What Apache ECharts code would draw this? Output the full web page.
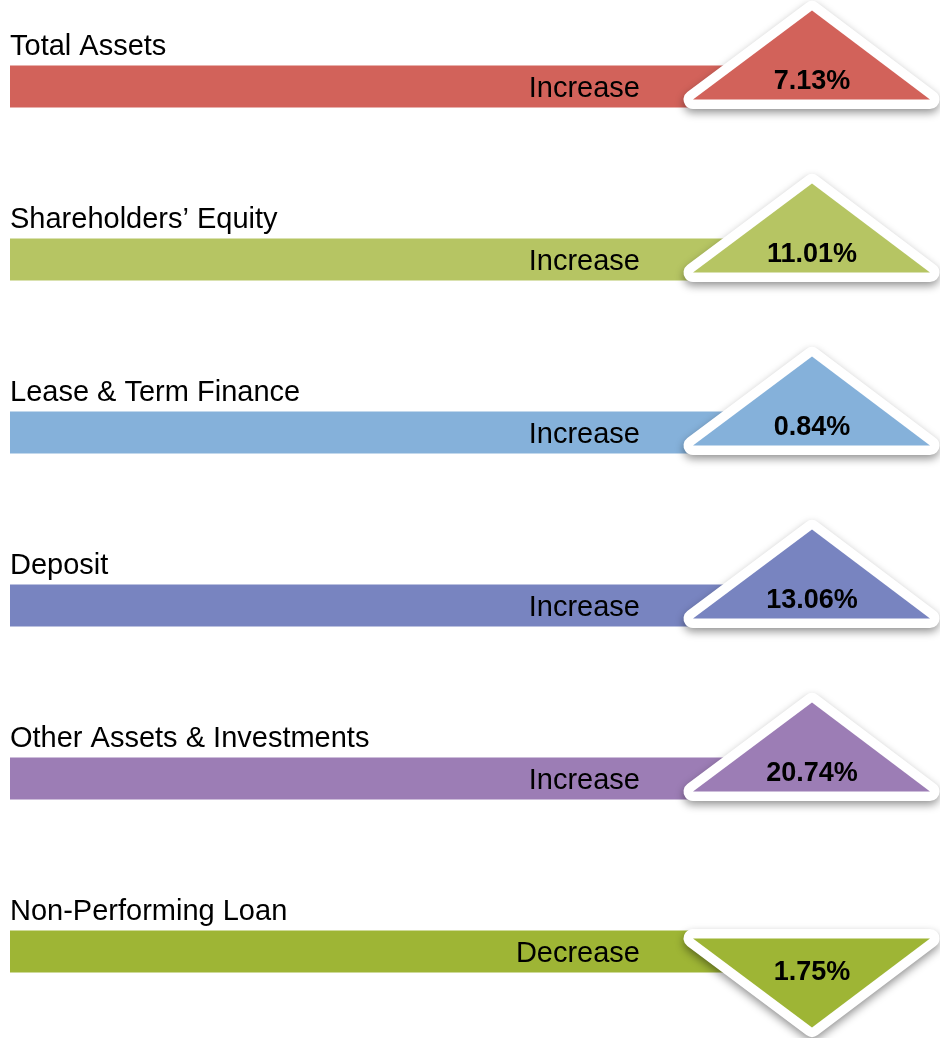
<!DOCTYPE html>
<html>
<head>
<meta charset="utf-8">
<script src="https://cdn.jsdelivr.net/npm/echarts@6/dist/echarts.min.js"></script>
<style>
	html, body {margin: 0; padding: 0; background: #fff;}
	#draw_1 {width: 940px; height: 1038px;}
</style>
</head>
<body>
<div id="draw_1"></div>
<script>
var categories = ['Total Assets', 'Shareholders’ Equity', 'Lease & Term Finance', 'Deposit', 'Other Assets & Investments', 'Non-Performing Loan'];
var directions = ['Increase', 'Increase', 'Increase', 'Increase', 'Increase', 'Decrease'];
var changes = [7.13, 11.01, 0.84, 13.06, 20.74, 1.75];
var colors = ['#D2625A', '#B6C563', '#85B1DA', '#7884C0', '#9C7DB5', '#9EB535'];

var myChart_1 = echarts.init(document.getElementById('draw_1'));

function renderRow(params, api){
	var i = api.value(0);
	var left = api.coord([0, i]);
	var barEnd = api.coord([760, i]);
	var tri = api.coord([802, i]);
	var band = api.size([0, 1])[1];
	var cx = tri[0], cy = left[1];
	var barH = band * 0.243;
	var up = directions[i] === 'Increase';
	var s = up ? 1 : -1;
	var pts = [[cx, cy - 76 * s], [cx - 119, cy + 13 * s], [cx + 118, cy + 13 * s]];
	var color = colors[i];
	return {
		type: 'group',
		children: [
			{type: 'rect', shape: {x: left[0], y: cy - barH / 2, width: barEnd[0] - left[0], height: barH}, style: {fill: color}},
			{type: 'text', x: left[0], y: cy - 40, style: {text: categories[i], fill: '#000', font: '29px "Liberation Sans", Arial, sans-serif', align: 'left', verticalAlign: 'middle'}},
			{type: 'text', x: 640, y: cy + 2, style: {text: directions[i], fill: '#000', font: '29px "Liberation Sans", Arial, sans-serif', align: 'right', verticalAlign: 'middle'}},
			{type: 'polygon', shape: {points: pts}, style: {fill: '#fff', stroke: '#fff', lineWidth: 19, lineJoin: 'round', shadowBlur: 8, shadowOffsetY: 4, shadowColor: 'rgba(0,0,0,0.4)'}},
			{type: 'polygon', shape: {points: pts}, style: {fill: color}},
			{type: 'text', x: cx, y: cy + (up ? -5 : 21), style: {text: api.value(1).toFixed(2) + '%', fill: '#000', font: 'bold 27px "Liberation Sans", Arial, sans-serif', align: 'center', verticalAlign: 'middle'}}
		]
	};
}

function draw_1(){
	var option = {
		animation: false,
		grid: {left: 10, right: 0, top: 0, bottom: 0},
		xAxis: {type: 'value', min: 0, max: 930, show: false},
		yAxis: {type: 'category', data: categories, inverse: true, show: false},
		series: [{
			type: 'custom',
			renderItem: renderRow,
			clip: false,
			data: changes.map(function(v, i){ return [i, v]; })
		}]
	};
	myChart_1.setOption(option, true);
}
draw_1();
</script>
</body>
</html>
